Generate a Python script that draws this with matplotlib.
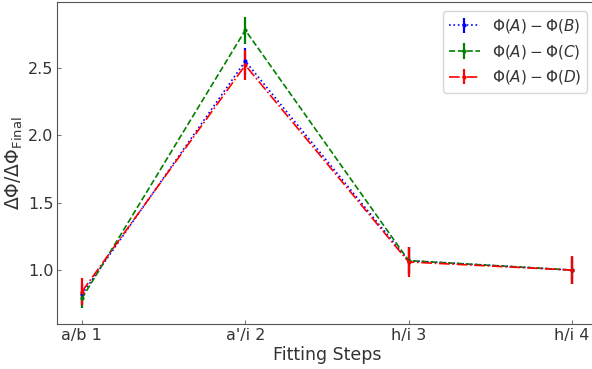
import numpy as np
import matplotlib
matplotlib.use('Agg')
import matplotlib.pyplot as plt

# Data
steps = ["a/b 1", "a'/i 2", "h/i 3", "h/i 4"]
phi_ab = [0.82, 2.55, 1.07, 1.00]
phi_ac = [0.79, 2.78, 1.07, 1.00]
phi_ad = [0.84, 2.52, 1.06, 1.00]
err_ab = [0.08, 0.10, 0.10, 0.10]
err_ac = [0.07, 0.10, 0.10, 0.10]
err_ad = [0.10, 0.11, 0.11, 0.105]

labels = [r"$\Phi(A)-\Phi(B)$", r"$\Phi(A)-\Phi(C)$", r"$\Phi(A)-\Phi(D)$"]

plt.rcParams['text.color'] = '#333333'
plt.rcParams['axes.labelcolor'] = '#333333'
plt.rcParams['xtick.color'] = '#333333'
plt.rcParams['ytick.color'] = '#333333'
plt.rcParams['axes.edgecolor'] = '#555555'

fig, ax = plt.subplots(figsize=(5.92, 3.69), dpi=100)
fig.subplots_adjust(left=0.097, right=1.0076, top=0.995, bottom=0.122)

x = np.arange(len(steps))
style = dict(marker='.', markersize=4, linewidth=1.2, elinewidth=1.6)
ax.errorbar(x, phi_ab, yerr=err_ab, fmt='b:', label=labels[0], **style)
ax.errorbar(x, phi_ac, yerr=err_ac, fmt='g--', label=labels[1], **style)
ax.errorbar(x, phi_ad, yerr=err_ad, fmt='r-.', label=labels[2], **style)

ax.set_xticks(x)
ax.set_xticklabels(steps)
ax.set_xlim(-0.15, 3.15)
ax.set_ylim(0.6, 2.99)
ax.set_yticks([1.0, 1.5, 2.0, 2.5])
ax.tick_params(direction='in', labelsize=11.5, pad=3, length=3, color='#777777')

ax.set_xlabel("Fitting Steps", fontsize=12.5, labelpad=2)
ax.set_ylabel(r"$\Delta\Phi/\Delta\Phi_{\mathrm{Final}}$", fontsize=13.5, labelpad=2)
leg = ax.legend(loc='upper right', fontsize=11, borderaxespad=0.6)
leg.get_frame().set_edgecolor('#cccccc')

fig.savefig("out.png")
